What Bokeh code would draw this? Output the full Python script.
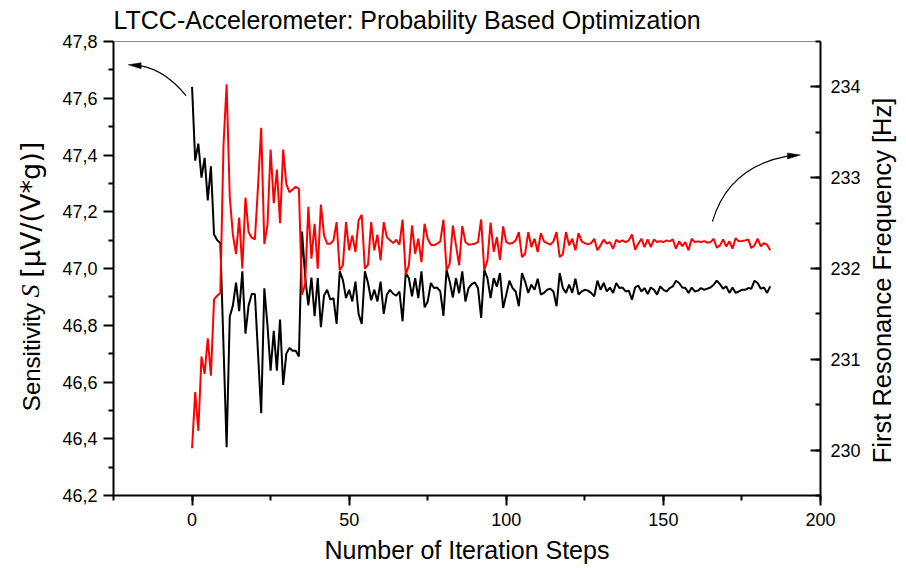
import math
from bokeh.plotting import figure
from bokeh.layouts import row
from bokeh.models import (Range1d, LinearAxis, SingleIntervalTicker, FixedTicker,
                          CustomJSTickFormatter, Label)
from bokeh.embed import file_html
from bokeh.resources import INLINE

# ---------------- data ----------------
steps = list(range(185))

sensitivity = [
    47.64, 47.38, 47.44, 47.32, 47.39, 47.24, 47.36, 47.12, 47.10, 47.09,
    46.73, 46.37, 46.83, 46.87, 46.95, 46.85, 46.99, 46.77, 46.87, 46.91,
    46.91, 46.70, 46.49, 46.93, 46.80, 46.64, 46.78, 46.64, 46.82, 46.59,
    46.70, 46.72, 46.71, 46.71, 46.69, 47.13, 46.97, 46.87,
    46.968, 46.832, 46.966, 46.793, 46.905, 46.925, 46.890, 46.896, 46.805, 46.990, 46.960, 46.896,
    46.925, 46.884, 46.954, 46.840, 46.805, 46.990, 46.949, 46.888, 46.925, 46.884,
    46.954, 46.840, 46.908, 46.925, 46.911, 46.904, 46.919, 46.814, 46.984, 46.966,
    46.902, 46.966, 46.896, 46.990, 46.863, 46.884, 46.949, 46.931, 46.933, 46.919,
    46.833, 46.995, 46.954, 46.898, 46.966, 46.913, 46.990, 46.884, 46.931, 46.945,
    46.951, 46.931, 46.826, 46.995, 46.966, 46.896, 46.966, 46.936, 46.984,
    46.861, 46.908, 46.957, 46.931, 46.919, 46.867, 46.984, 46.954, 46.914, 46.943, 46.925,
    46.964, 46.908, 46.914, 46.925, 46.929, 46.919, 46.867, 46.984, 46.931, 46.914,
    46.943, 46.914, 46.964, 46.908, 46.919, 46.925, 46.922, 46.914, 46.902, 46.957,
    46.925, 46.949, 46.919, 46.933, 46.914, 46.949, 46.931, 46.933, 46.919, 46.922,
    46.890, 46.933, 46.940, 46.919, 46.931, 46.910, 46.933, 46.925, 46.908, 46.937,
    46.925, 46.919, 46.931, 46.937, 46.957, 46.949, 46.933, 46.931, 46.914, 46.933,
    46.919, 46.922, 46.931, 46.925, 46.929, 46.933, 46.943, 46.957, 46.945, 46.929,
    46.937, 46.914, 46.933, 46.914, 46.919, 46.925, 46.925, 46.931, 46.929, 46.957,
    46.949, 46.929, 46.933, 46.914, 46.937,
]

frequency = [
    230.02, 230.64, 230.21, 231.03, 230.84, 231.23, 230.82, 231.66, 231.70, 231.73,
    233.35, 234.03, 232.79, 232.37, 232.16, 232.56, 232.00, 232.78, 232.40, 232.34,
    232.32, 232.91, 233.55, 232.27, 232.48, 233.31, 232.72, 233.09, 232.50, 233.31,
    232.93, 232.84, 232.87, 232.90, 232.88, 231.71, 231.83, 232.68,
    232.108, 232.493, 231.998, 232.705, 232.365, 232.273, 232.273, 232.310, 232.511, 231.980, 232.035, 232.511,
    232.200, 232.365, 232.181, 232.529, 232.592, 231.998, 232.042, 232.511, 232.200, 232.372,
    232.090, 232.511, 232.346, 232.310, 232.280, 232.317, 232.262, 232.537, 231.932, 232.035,
    232.474, 232.163, 232.328, 232.071, 232.493, 232.328, 232.262, 232.255, 232.273, 232.299,
    232.537, 231.980, 232.053, 232.474, 232.255, 232.035, 232.467, 232.291, 232.262, 232.266,
    232.273, 232.291, 232.540, 231.980, 232.090, 232.505, 232.185, 232.345, 232.095,
    232.463, 232.291, 232.273, 232.280, 232.310, 232.401, 232.126, 232.163, 232.401, 232.236, 232.328,
    232.181, 232.390, 232.299, 232.280, 232.262, 232.299, 232.401, 232.126, 232.156, 232.401,
    232.255, 232.328, 232.200, 232.390, 232.299, 232.280, 232.266, 232.280, 232.328, 232.200,
    232.255, 232.317, 232.273, 232.291, 232.218, 232.317, 232.291, 232.310, 232.291, 232.310,
    232.375, 232.207, 232.273, 232.328, 232.236, 232.320, 232.236, 232.320, 232.291, 232.302,
    232.291, 232.310, 232.299, 232.320, 232.218, 232.299, 232.247, 232.291, 232.200, 232.328,
    232.291, 232.299, 232.291, 232.302, 232.284, 232.291, 232.328, 232.229, 232.255, 232.320,
    232.244, 232.299, 232.218, 232.335, 232.299, 232.302, 232.310, 232.320, 232.225, 232.255,
    232.328, 232.244, 232.280, 232.262, 232.200,
]

left_ticks = [46.2, 46.4, 46.6, 46.8, 47.0, 47.2, 47.4, 47.6, 47.8]
left_minor = [46.3, 46.5, 46.7, 46.9, 47.1, 47.3, 47.5, 47.7]

title_text = "LTCC-Accelerometer: Probability Based Optimization"
x_label = "Number of Iteration Steps"
left_label_parts = ["Sensitivity", "S", "[\u00b5V/(V*g)]"]
right_label = "First Resonance Frequency [Hz]"

FONT = "Liberation Sans"
H = 566
TOP, BOTTOM = 39, 71

# ---------------- main figure ----------------
p = figure(width=818, height=H, output_backend="svg", toolbar_location=None,
           x_range=Range1d(-25, 200), y_range=Range1d(46.2, 47.8),
           min_border_left=65, min_border_right=46,
           min_border_top=TOP, min_border_bottom=BOTTOM,
           background_fill_color="white", border_fill_color="white")
p.extra_y_ranges = {"freq": Range1d(229.5, 234.5)}
p.grid.visible = False
p.outline_line_color = "#8c8c8c"
p.outline_line_width = 1

p.title.text = title_text
p.title.text_font = FONT
p.title.text_font_size = "25px"
p.title.text_font_style = "normal"
p.title.text_color = "black"
p.title.align = "left"
p.title.vertical_align = "top"
p.title.standoff = 11

right = LinearAxis(y_range_name="freq")
p.add_layout(right, "right")

xa = p.xaxis[0]
ya = p.yaxis[0]
xa.ticker = SingleIntervalTicker(interval=50, num_minor_ticks=2)
ya.ticker = FixedTicker(ticks=left_ticks, minor_ticks=left_minor)
right.ticker = SingleIntervalTicker(interval=1, num_minor_ticks=2)
ya.formatter = CustomJSTickFormatter(code="return tick.toFixed(1).replace('.', ',');")

for ax in (xa, ya, right):
    ax.axis_line_color = "black"
    ax.axis_line_width = 2
    ax.major_tick_line_color = "black"
    ax.major_tick_line_width = 2
    ax.minor_tick_line_color = "black"
    ax.minor_tick_line_width = 2
    ax.major_tick_out = 10
    ax.major_tick_in = 0
    ax.minor_tick_out = 5
    ax.minor_tick_in = 0
    ax.major_label_text_font = FONT
    ax.major_label_text_font_size = "18px"
    ax.major_label_text_color = "black"
    ax.axis_label_text_font = FONT
    ax.axis_label_text_font_size = "25px"
    ax.axis_label_text_font_style = "normal"
    ax.axis_label_text_color = "black"

right.major_tick_out = 0
right.major_tick_in = 10
right.minor_tick_out = 0
right.minor_tick_in = 5
right.major_label_standoff = 10

xa.major_label_standoff = 7
ya.major_label_standoff = 6

xa.axis_label = x_label
xa.axis_label_standoff = 7

p.line(steps, sensitivity, line_color="black", line_width=2)
p.line(steps, frequency, line_color="#ff0000", line_width=2, y_range_name="freq")

# arrows (annotations, left-axis data units)
p.quadratic(x0=[-1.9], y0=[47.609], x1=[-16.2], y1=[47.714], cx=[-8.5], cy=[47.698],
            line_color="black", line_width=1.2)
p.patch([-20.3, -16.2, -16.2], [47.718, 47.725, 47.704], fill_color="black",
        line_color="black", line_width=0.5)
p.quadratic(x0=[165.6], y0=[47.165], x1=[189.5], y1=[47.396], cx=[170.7], cy=[47.358],
            line_color="black", line_width=1.2)
p.patch([193.6, 189.5, 189.5], [47.400, 47.407, 47.386], fill_color="black",
        line_color="black", line_width=0.5)


# ---------------- side strips holding the vertical axis titles ----------------
# strip coordinates: x in pixels from the strip's left edge, y = H - page pixel row
def strip(w):
    f = figure(width=w, height=H, output_backend="svg", toolbar_location=None,
               x_range=Range1d(0, w), y_range=Range1d(BOTTOM, H - TOP),
               x_axis_location=None, y_axis_location=None, title=None,
               min_border_left=0, min_border_right=0,
               min_border_top=TOP, min_border_bottom=BOTTOM,
               background_fill_color="white", border_fill_color="white")
    f.grid.visible = False
    f.outline_line_color = None
    return f


def vlabel(fig, x, y, text, font, size, style="normal"):
    fig.add_layout(Label(x=x, y=y, text=text, angle=math.pi / 2,
                         text_align="center", text_baseline="middle",
                         text_font=font, text_font_size=size,
                         text_font_style=style, text_color="black"))


pl = strip(48)
vlabel(pl, 30.7, H - 356, left_label_parts[0], FONT, "24px")
vlabel(pl, 30.2, H - 289.5, left_label_parts[1], "Liberation Serif", "26px", "italic")
vlabel(pl, 30.0, H - 208, left_label_parts[2], "DejaVu Sans", "27px")

pr = strip(40)
vlabel(pr, 15.7, H - 279, right_label, FONT, "25.5px")

layout = row(pl, p, pr)
open("out.html", "w").write(file_html(layout, INLINE))
